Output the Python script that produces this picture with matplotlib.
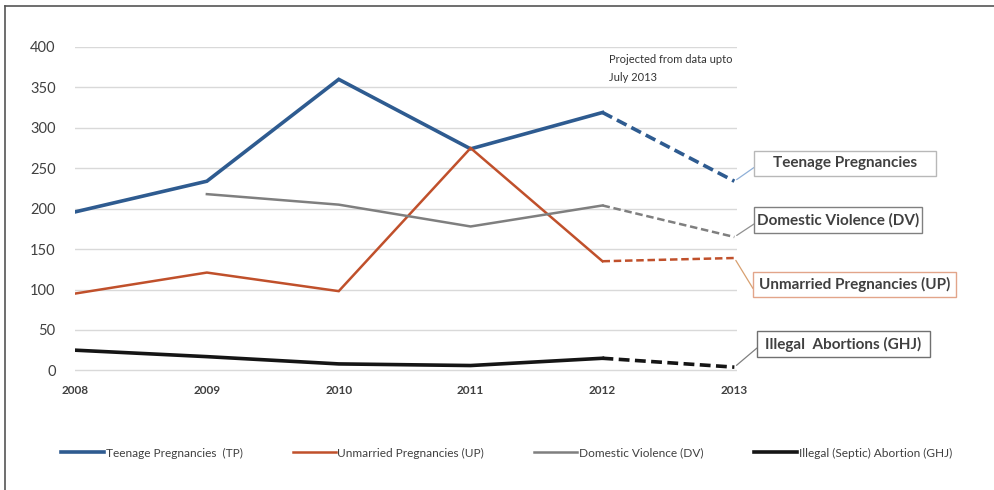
import matplotlib
matplotlib.use("Agg")
import matplotlib.pyplot as plt
from matplotlib.lines import Line2D
from matplotlib.patches import Rectangle

plt.rcParams['font.family'] = ['Lato', 'DejaVu Sans']

years = [2008, 2009, 2010, 2011, 2012, 2013]
teenage = [196, 234, 360, 274, 319, 234]
unmarried = [95, 121, 98, 275, 135, 139]
domestic = [None, 218, 205, 178, 204, 165]
illegal = [25, 17, 8, 6, 15, 4]

legend_labels = ["Teenage Pregnancies  (TP)", "Unmarried Pregnancies (UP)",
                 "Domestic Violence (DV)", "Illegal (Septic) Abortion (GHJ)"]
callout_labels = ["Teenage Pregnancies", "Unmarried Pregnancies (UP)",
                  "Domestic Violence (DV)", "Illegal  Abortions (GHJ)"]
yticks = [0, 50, 100, 150, 200, 250, 300, 350, 400]

colors = ["#2E5B90", "#C0502B", "#7F7F7F", "#151515"]
widths = [2.6, 1.8, 1.8, 2.6]
series = [teenage, unmarried, domestic, illegal]

W, H = 994, 490
fig = plt.figure(figsize=(W / 100, H / 100), dpi=100)
ax = fig.add_axes([75 / W, 1 - 372 / H, (737 - 75) / W, (372 - 47) / H])
ax.set_xlim(2008, 2013.02)
ax.set_ylim(-2, 400)

for v in yticks:
    ax.axhline(v, color="#D9D9D9", lw=1.0, zorder=0)

for vals, c, lw in zip(series, colors, widths):
    xs = [x for x, v in zip(years, vals) if v is not None]
    ys = [v for v in vals if v is not None]
    # actual data up to 2012, projection for 2013
    ax.plot(xs[:-1], ys[:-1], color=c, lw=lw, solid_joinstyle='miter', zorder=3)
    ax.plot(xs[-2:], ys[-2:], color=c, lw=lw, ls=(0, (3, 1.5)), zorder=3)

for s in ax.spines.values():
    s.set_visible(False)
ax.set_yticks(yticks)
ax.set_yticklabels([str(v) for v in yticks], fontsize=10.5, color="#404040")
ax.set_xticks(years)
ax.set_xticklabels([str(y) for y in years], fontsize=8.5, color="#404040",
                   fontweight='bold')
ax.tick_params(length=0)
ax.tick_params(axis='y', pad=14)
ax.tick_params(axis='x', pad=9)

ax.text(2012.05, 391, "Projected from data upto\nJuly 2013", fontsize=8,
        color="#333333", va='top', ha='left', linespacing=1.75)


def px(x, y):
    """Top-left pixel coordinates to figure fraction."""
    return x / W, 1 - y / H


# callout boxes (left, top, right, bottom in pixels) pointing at 2013 values
box_specs = [
    (teenage, callout_labels[0], (754, 151, 936, 176), "#B8B8B8", "#8FB0D8"),
    (domestic, callout_labels[2], (754, 207, 922, 233), "#808080", "#909090"),
    (unmarried, callout_labels[1], (753, 272, 956, 297), "#E2A58A", "#D8A070"),
    (illegal, callout_labels[3], (757, 331, 930, 357), "#707070", "#808080"),
]
for vals, txt, (l, t, r, b), ec, tail in box_specs:
    x0, y1 = px(l, t)
    x1, y0 = px(r, b)
    fig.add_artist(Rectangle((x0, y0), x1 - x0, y1 - y0, transform=fig.transFigure,
                             fc="white", ec=ec, lw=1.0, zorder=5))
    fig.text((x0 + x1) / 2, (y0 + y1) / 2, txt, ha='center', va='center',
             fontsize=11, fontweight='bold', color="#404040", zorder=6)
    ax.annotate("", xy=(2013, vals[-1]), xycoords='data',
                xytext=px(l, (t + b) / 2 + 4), textcoords='figure fraction',
                arrowprops=dict(arrowstyle="-", color=tail, lw=0.9,
                                shrinkA=0, shrinkB=2),
                zorder=4, annotation_clip=False)

handles = [Line2D([0], [0], color=c, lw=lw) for c, lw in zip(colors, widths)]
fig.legend(handles, legend_labels, loc='center left',
           bbox_to_anchor=(50 / W, 1 - 453 / H), ncol=4, frameon=False,
           fontsize=8.6, handlelength=3.6, handletextpad=0.15,
           columnspacing=4.2, labelcolor="#404040")

# outer frame
fig.add_artist(Line2D([5 / W, 5 / W], [0, 1 - 6 / H], color="#555555", lw=1.2,
                      transform=fig.transFigure))
fig.add_artist(Line2D([5 / W, 1], [1 - 6 / H, 1 - 6 / H], color="#555555", lw=1.2,
                      transform=fig.transFigure))

fig.savefig("out.png", dpi=100)
